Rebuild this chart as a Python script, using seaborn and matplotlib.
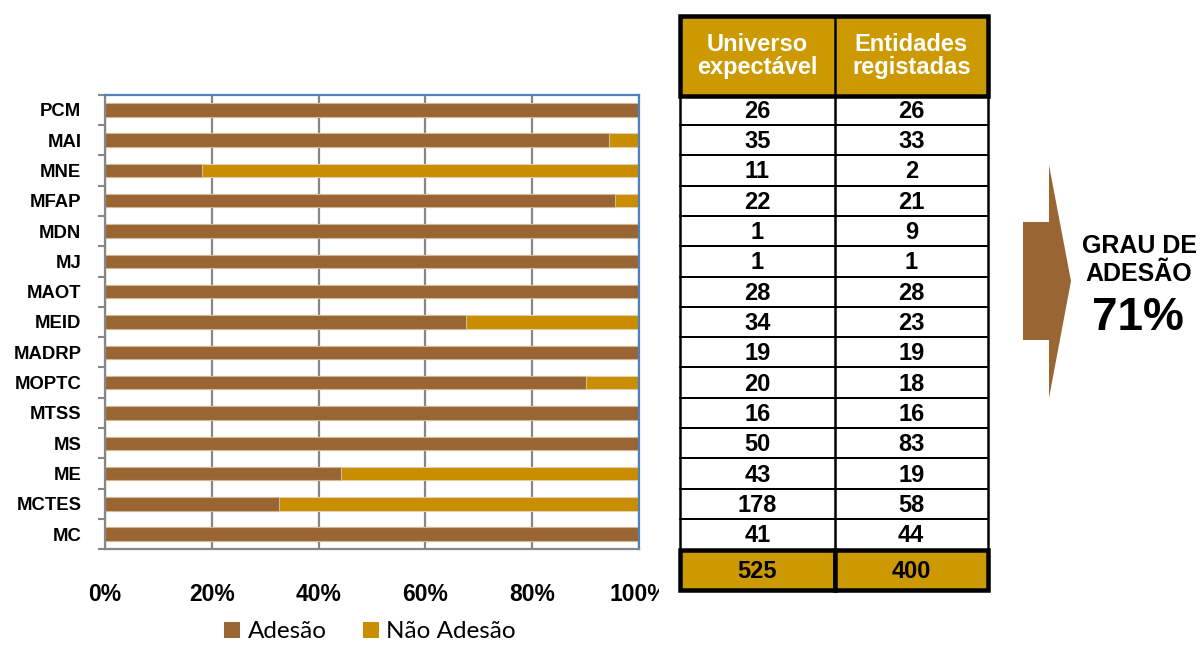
import numpy as np
import pandas as pd
import matplotlib
matplotlib.use("Agg")
import matplotlib.pyplot as plt
from matplotlib.patches import Rectangle, Polygon, Patch
from matplotlib.transforms import Bbox, TransformedBbox, blended_transform_factory
import seaborn as sns

# ---------------- data ----------------
categories = ["PCM", "MAI", "MNE", "MFAP", "MDN", "MJ", "MAOT", "MEID",
              "MADRP", "MOPTC", "MTSS", "MS", "ME", "MCTES", "MC"]
adesao = [100, 94.3, 18.2, 95.5, 100, 100, 100, 67.6, 100, 90.0, 100, 100, 44.2, 32.6, 100]
nao_adesao = [0, 5.7, 81.8, 4.5, 0, 0, 0, 32.4, 0, 10.0, 0, 0, 55.8, 67.4, 0]
x_ticks = [0, 20, 40, 60, 80, 100]
x_ticklabels = ["0%", "20%", "40%", "60%", "80%", "100%"]
legend_labels = ["Adesão", "Não Adesão"]

table_header = ["Universo\nexpectável", "Entidades\nregistadas"]
universo = [26, 35, 11, 22, 1, 1, 28, 34, 19, 20, 16, 50, 43, 178, 41]
entidades = [26, 33, 2, 21, 9, 1, 28, 23, 19, 18, 16, 83, 19, 58, 44]
totals = [525, 400]
grau_title = "GRAU DE\nADESÃO"
grau_value = "71%"

# ---------------- style ----------------
BROWN = "#996633"
GOLD_BAR = "#CA8D00"
GOLD_TAB = "#CC9900"
GRID = "#878787"
BLUE = "#4F81BD"

sns.set_theme(style="white")
plt.rcParams["font.family"] = ["Lato", "DejaVu Sans"]
plt.rcParams["text.color"] = "black"
plt.rcParams["xtick.labelcolor"] = "black"
plt.rcParams["ytick.labelcolor"] = "black"
LBL_FONT = ["Liberation Sans", "DejaVu Sans"]
X_FS = 16.5

W, H = 1203, 645
fig = plt.figure(figsize=(W / 100, H / 100), dpi=100)

def fx(px):
    return px / W

def fy(py):
    return 1 - py / H

# chart axes
ax_left, ax_right, ax_top, ax_bottom = 105, 639, 94.7, 549.3
ax = fig.add_axes([fx(ax_left), fy(ax_bottom), fx(ax_right - ax_left), (ax_bottom - ax_top) / H])

df = pd.DataFrame({"cat": categories, "adesao": adesao, "nao": nao_adesao})
df["total"] = df["adesao"] + df["nao"]

sns.barplot(data=df, x="total", y="cat", color=GOLD_BAR, orient="h", width=0.44,
            edgecolor="#E2CFA8", linewidth=0.8, ax=ax, saturation=1)
sns.barplot(data=df, x="adesao", y="cat", color=BROWN, orient="h", width=0.44,
            edgecolor="#D2B896", linewidth=0.8, ax=ax, saturation=1)

ax.set_xlim(0, 100)
ax.set_ylim(len(categories) - 0.5, -0.5)
ax.set_xlabel("")
ax.set_ylabel("")
ax.set_xticks(x_ticks)
ax.set_xticklabels(x_ticklabels[:-1] + [""], fontweight="bold", fontsize=X_FS, family=LBL_FONT,
                   color="black")
ax.tick_params(axis="x", length=0, pad=24)
ax.set_yticks(range(len(categories)))
ax.set_yticklabels(categories, fontweight="bold", fontsize=13.3, family=LBL_FONT, color="black")
ax.tick_params(axis="y", which="major", length=0, pad=17)
ax.set_yticks(np.arange(-0.5, len(categories), 1), minor=True)
ax.tick_params(axis="y", which="minor", length=5, width=1.5, color=GRID, direction="out", left=True)

ax.grid(axis="x", color=GRID, linewidth=1.6)
ax.grid(axis="y", visible=False)
ax.set_axisbelow(True)
for side in ["left", "bottom"]:
    ax.spines[side].set_color(GRID)
    ax.spines[side].set_linewidth(1.6)
for side in ["top", "right"]:
    ax.spines[side].set_color(BLUE)
    ax.spines[side].set_linewidth(1.6)

fig.canvas.draw()
# clipped "100%" label (chart object ends before the label ends), aligned with other labels
ref_lbl = ax.get_xticklabels()[1]
bb = ref_lbl.get_window_extent()
t100 = ax.text(x_ticks[-1], (bb.y0 + bb.y1) / 2 / H, x_ticklabels[-1],
               transform=blended_transform_factory(ax.transData, fig.transFigure),
               ha="center", va="center", fontsize=X_FS, fontweight="bold", family=LBL_FONT,
               color="black")
t100.set_clip_box(TransformedBbox(Bbox.from_extents(0, 0, fx(659), 1), fig.transFigure))
t100.set_clip_on(True)

# legend
handles = [Patch(facecolor=BROWN, edgecolor="none"), Patch(facecolor=GOLD_BAR, edgecolor="none")]
leg = fig.legend(handles, legend_labels, loc="center", bbox_to_anchor=(fx(370), fy(632)), ncol=2,
                 frameon=False, fontsize=17.5, handlelength=0.65, handleheight=0.65,
                 handletextpad=0.3, columnspacing=1.5, borderpad=0)
for t in leg.get_texts():
    t.set_color("black")

# ---------------- table + arrow (pixel overlay) ----------------
ov = fig.add_axes([0, 0, 1, 1], zorder=5)
ov.set_xlim(0, W)
ov.set_ylim(H, 0)
ov.axis("off")
ov.patch.set_alpha(0)

def lw(px):
    return px * 72 / 100

TL, TM, TR = 680, 835, 987.5
row_h = (ax_bottom - ax_top) / len(categories)
tfont = ["Liberation Sans", "DejaVu Sans"]
NUM_FS = 17

# header
ov.add_patch(Rectangle((TL, 15.5), TR - TL, 80, facecolor=GOLD_TAB, edgecolor="black", linewidth=lw(4.5)))
ov.plot([TM, TM], [15.5, 95.5], color="black", linewidth=lw(2.5))
ov.text((TL + TM) / 2, 56, table_header[0], ha="center", va="center", color="white",
        fontsize=17, fontweight="bold", family=tfont, linespacing=1.05)
ov.text((TM + TR) / 2, 56, table_header[1], ha="center", va="center", color="white",
        fontsize=17, fontweight="bold", family=tfont, linespacing=1.05)

# data rows
for i in range(len(categories)):
    y0 = ax_top + i * row_h
    yc = y0 + row_h / 2
    if i > 0:
        ov.plot([TL, TR], [y0, y0], color="black", linewidth=lw(2))
    ov.text((TL + TM) / 2, yc + 1.5, str(universo[i]), ha="center", va="center", fontsize=NUM_FS,
            fontweight="bold", family=tfont, color="black")
    ov.text((TM + TR) / 2, yc + 1.5, str(entidades[i]), ha="center", va="center", fontsize=NUM_FS,
            fontweight="bold", family=tfont, color="black")
for xx in (TL, TM, TR):
    ov.plot([xx, xx], [95.5, ax_bottom], color="black", linewidth=lw(2.5))

# totals row
ov.add_patch(Rectangle((TL, 550), TM - TL, 40, facecolor=GOLD_TAB, edgecolor="black", linewidth=lw(4.5)))
ov.add_patch(Rectangle((TM, 550), TR - TM, 40, facecolor=GOLD_TAB, edgecolor="black", linewidth=lw(4.5)))
ov.text((TL + TM) / 2, 571, str(totals[0]), ha="center", va="center", fontsize=NUM_FS,
        fontweight="bold", family=tfont, color="black")
ov.text((TM + TR) / 2, 571, str(totals[1]), ha="center", va="center", fontsize=NUM_FS,
        fontweight="bold", family=tfont, color="black")

# arrow
arrow_pts = [(1023, 222), (1049, 222), (1049, 165), (1071, 281), (1049, 398), (1049, 340), (1023, 340)]
ov.add_patch(Polygon(arrow_pts, closed=True, facecolor=BROWN, edgecolor="none"))
ov.text(1139, 260, grau_title, ha="center", va="center", fontsize=18, fontweight="bold",
        family=tfont, color="black", linespacing=1.2)
ov.text(1138, 318, grau_value, ha="center", va="center", fontsize=33, fontweight="bold",
        family=tfont, color="black")

fig.savefig("out.png", dpi=100)
